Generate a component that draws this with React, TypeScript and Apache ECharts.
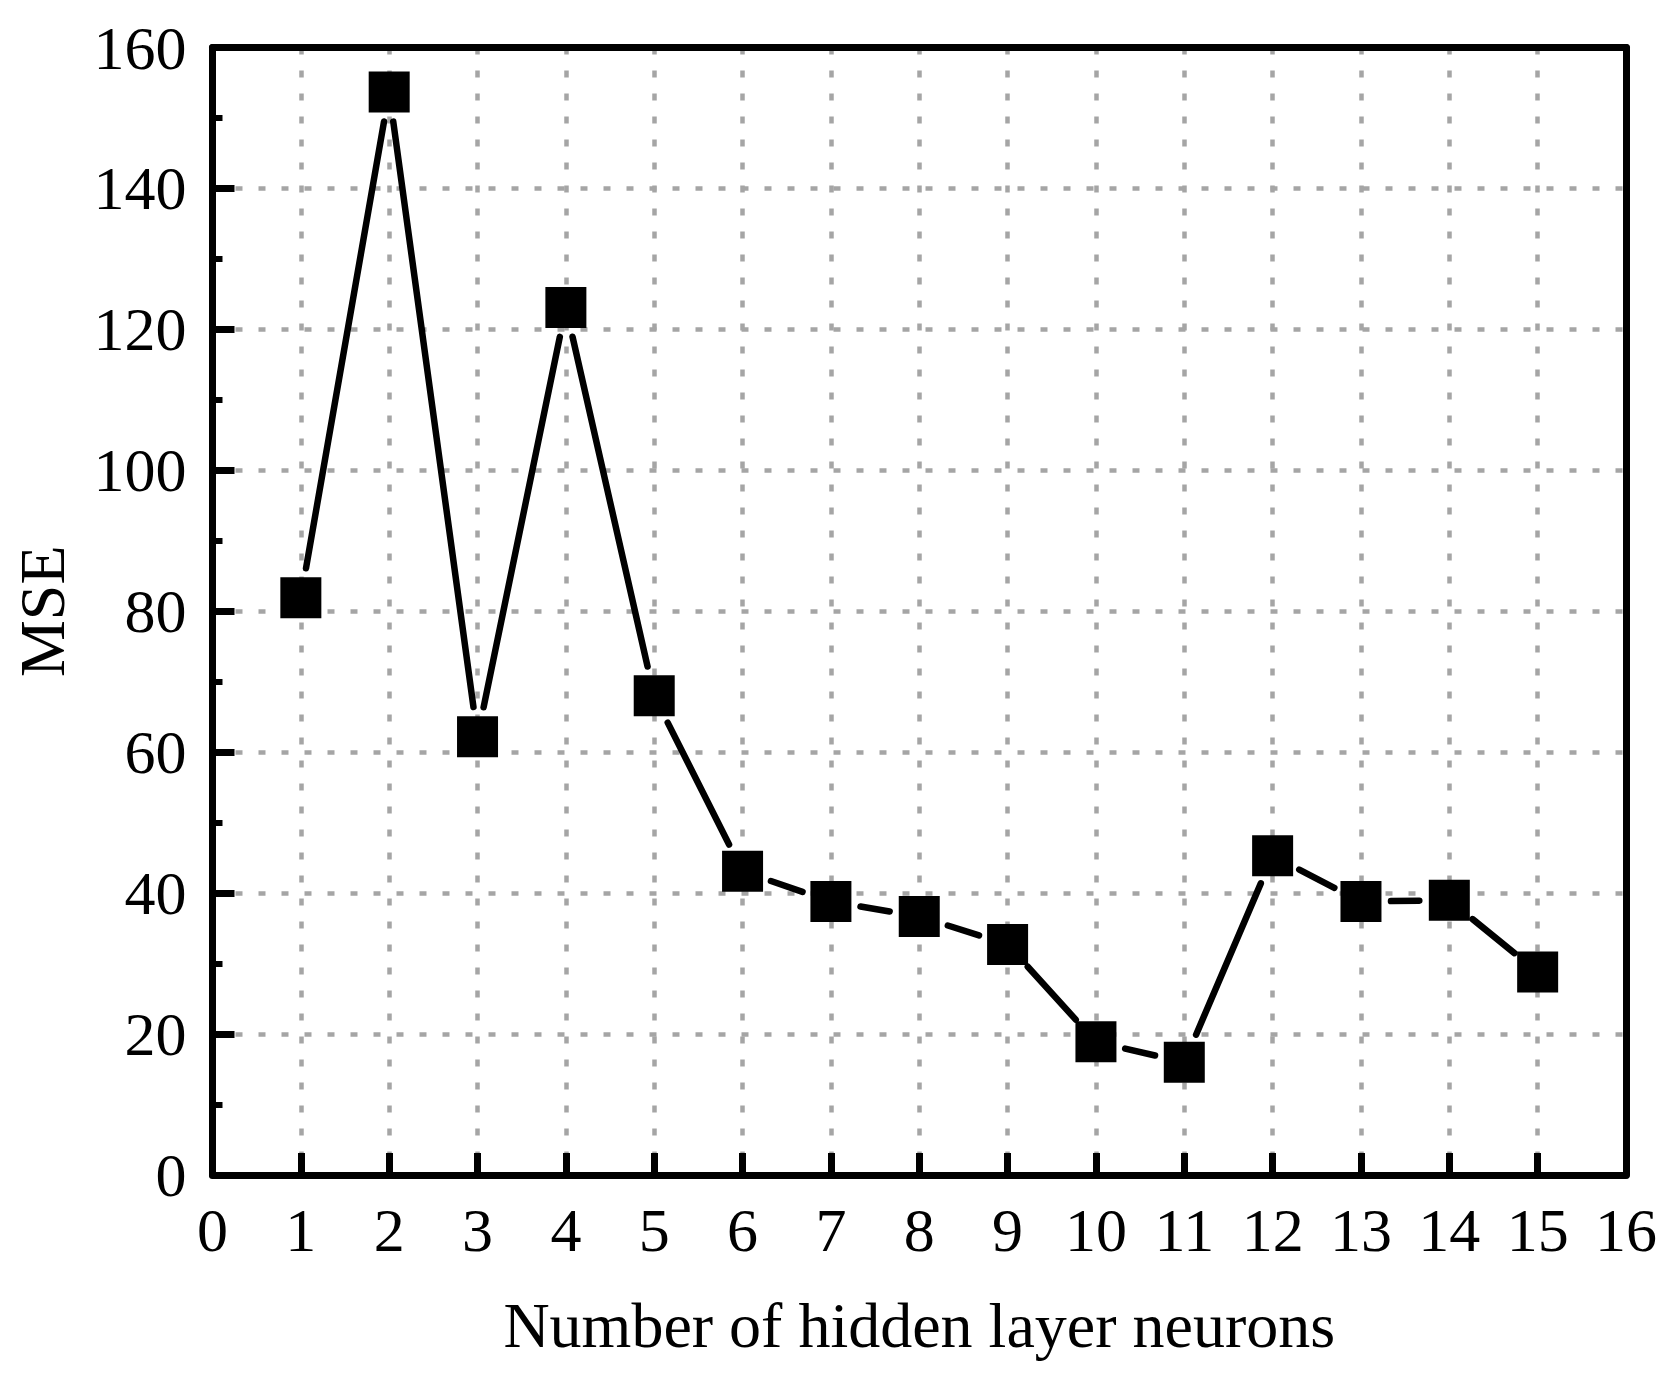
import React, { useEffect, useRef } from "react";
import * as echarts from "echarts";

const neurons = [1, 2, 3, 4, 5, 6, 7, 8, 9, 10, 11, 12, 13, 14, 15];
const mse = [81.9, 153.7, 62.2, 123.1, 68.0, 43.1, 38.8, 36.7, 32.7, 18.9, 16.0, 45.3, 38.8, 39.0, 28.8];

const xTitle = "Number of hidden layer neurons";
const yTitle = "MSE";

const FONT = "Liberation Serif";

export default function App() {
  const ref = useRef<HTMLDivElement>(null);
  useEffect(() => {
    if (!ref.current) return;
    const chart = echarts.init(ref.current, null, { renderer: "svg" });
    const points = neurons.map((n, i) => [n, mse[i]]);
    const segments = neurons.slice(0, -1).map((n, i) => [n, mse[i], neurons[i + 1], mse[i + 1]]);
    const gap = 30;
    const grid = { color: "#a5a5a5", width: 4.5, type: [7, 16] };
    const frameAxis = {
      show: true,
      axisLine: { show: true, onZero: false, lineStyle: { color: "#000", width: 7 } },
      axisTick: { show: false },
      axisLabel: { show: false },
      splitLine: { show: false },
    };
    chart.setOption({
      animation: false,
      backgroundColor: "#fff",
      grid: {
        left: 212.5,
        top: 47.5,
        right: 52,
        bottom: 205,
      },
      xAxis: [
        {
          type: "value",
          min: 0,
          max: 16,
          interval: 1,
          name: xTitle,
          nameLocation: "middle",
          nameGap: 118,
          nameTextStyle: { fontFamily: FONT, fontSize: 64, color: "#000" },
          axisLine: { show: true, onZero: false, lineStyle: { color: "#000", width: 7 } },
          axisTick: { show: true, inside: true, length: 22, lineStyle: { color: "#000", width: 7 } },
          axisLabel: { fontFamily: FONT, fontSize: 62, color: "#000", margin: 24 },
          splitLine: { show: true, showMinLine: false, showMaxLine: false, lineStyle: grid },
          z: 2,
        },
        { type: "value", position: "top", min: 0, max: 16, interval: 1, ...frameAxis, z: 5 },
      ],
      yAxis: [
        {
          type: "value",
          min: 0,
          max: 160,
          interval: 20,
          name: yTitle,
          nameLocation: "middle",
          nameGap: 138,
          nameRotate: 90,
          nameTextStyle: { fontFamily: FONT, fontSize: 64, color: "#000" },
          axisLine: { show: true, onZero: false, lineStyle: { color: "#000", width: 7 } },
          axisTick: { show: true, inside: true, length: 22, lineStyle: { color: "#000", width: 7 } },
          minorTick: { show: true, splitNumber: 2, length: 10, lineStyle: { color: "#000", width: 6 } },
          axisLabel: { fontFamily: FONT, fontSize: 62, color: "#000", margin: 26 },
          splitLine: { show: true, showMinLine: false, showMaxLine: false, lineStyle: grid },
          z: 2,
        },
        { type: "value", position: "right", min: 0, max: 160, interval: 20, ...frameAxis, z: 5 },
      ],
      series: [
        {
          type: "custom",
          data: segments,
          encode: { x: [0, 2], y: [1, 3] },
          z: 3,
          renderItem: (params: any, api: any) => {
            const p1 = api.coord([api.value(0), api.value(1)]);
            const p2 = api.coord([api.value(2), api.value(3)]);
            const dx = p2[0] - p1[0];
            const dy = p2[1] - p1[1];
            const len = Math.sqrt(dx * dx + dy * dy);
            if (len <= 2 * gap) return null;
            const ux = dx / len;
            const uy = dy / len;
            return {
              type: "line",
              shape: {
                x1: p1[0] + ux * gap,
                y1: p1[1] + uy * gap,
                x2: p2[0] - ux * gap,
                y2: p2[1] - uy * gap,
              },
              style: { stroke: "#000", lineWidth: 6.5, lineCap: "round" },
            };
          },
        },
        {
          type: "scatter",
          data: points,
          symbol: "rect",
          symbolSize: 41,
          itemStyle: { color: "#000", opacity: 1 },
          z: 4,
        },
      ],
    });
    return () => chart.dispose();
  }, []);
  return (
    <div
      ref={ref}
      style={{ position: "fixed", left: 0, top: 0, width: 1678, height: 1380, background: "#fff" }}
    />
  );
}
